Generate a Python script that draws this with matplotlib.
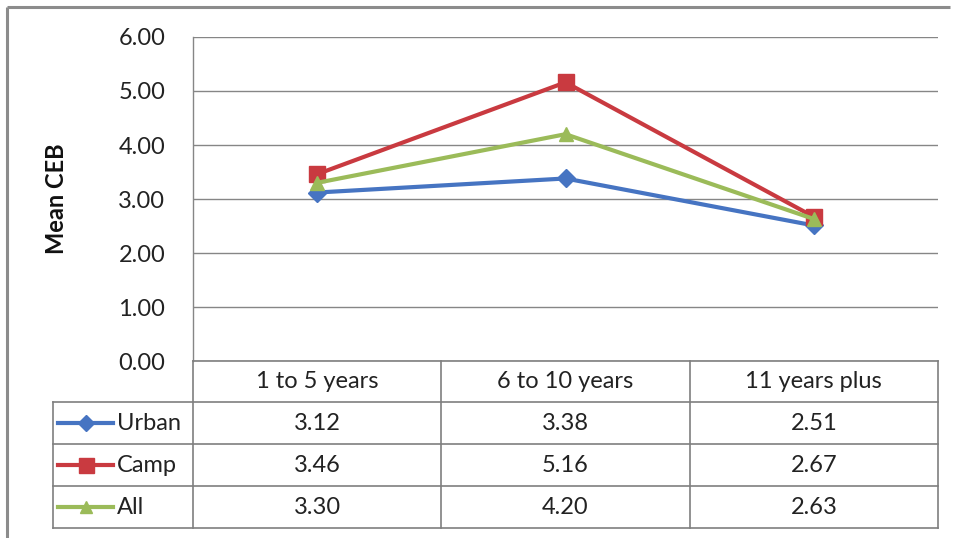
import matplotlib
matplotlib.use("Agg")
import matplotlib.pyplot as plt
from matplotlib.lines import Line2D

plt.rcParams['font.family'] = ['Lato', 'DejaVu Sans']

categories = ["1 to 5 years", "6 to 10 years", "11 years plus"]
series_names = ["Urban", "Camp", "All"]
urban = [3.12, 3.38, 2.51]
camp = [3.46, 5.16, 2.67]
all_values = [3.30, 4.20, 2.63]
y_ticks = [0, 1, 2, 3, 4, 5, 6]

series = [urban, camp, all_values]
colors = ["#4674C2", "#C93A40", "#9BBB59"]
markers = ["D", "s", "^"]
msizes = [9, 12, 10]

FS = 17
TXT = "#222222"
W, H = 955, 538
fig = plt.figure(figsize=(W / 100, H / 100), dpi=100)
fig.patch.set_facecolor("white")

def fig_rect(x0, y0, x1, y1):
    return [x0 / W, 1 - y1 / H, (x1 - x0) / W, (y1 - y0) / H]

# Chart outer frame (top and left edges)
frame = fig.add_axes([0, 0, 1, 1])
frame.set_xlim(0, W)
frame.set_ylim(H, 0)
frame.axis("off")
frame.plot([7, 950], [7, 7], color="#8C8C8C", lw=2.2, solid_capstyle="butt")
frame.plot([7, 7], [7, 538], color="#8C8C8C", lw=2.2, solid_capstyle="butt")

# Plot area
px0, px1, py0, py1 = 193, 938, 37, 361
ax = fig.add_axes(fig_rect(px0, py0, px1, py1))
ax.set_xlim(-0.5, len(categories) - 0.5)
ax.set_ylim(0, 6)
ax.set_yticks(y_ticks)
ax.set_yticklabels([f"{v:.2f}" for v in y_ticks], fontsize=FS, color=TXT)
ax.tick_params(axis="y", length=0, pad=20)
ax.set_xticks([])
for s in ["top", "right", "bottom"]:
    ax.spines[s].set_visible(False)
ax.spines["left"].set_color("#868686")
ax.spines["left"].set_linewidth(1.0)
ax.grid(axis="y", color="#868686", lw=1.0)
ax.set_axisbelow(True)
ax.set_ylabel("Mean CEB", fontsize=FS, fontweight="bold", color="#111111")
ax.yaxis.set_label_coords(-0.168, 0.5)

xs = list(range(len(categories)))
for vals, c, m, ms in zip(series, colors, markers, msizes):
    ax.plot(xs, vals, color=c, lw=3.0, marker=m, markersize=ms,
            markerfacecolor=c, markeredgecolor=c, clip_on=False, zorder=3)

# Data table below the plot area
tx0, ty0, ty1 = 53, 361, 528
tab = fig.add_axes(fig_rect(tx0, ty0, px1, ty1))
tab.set_xlim(tx0, px1)
tab.set_ylim(ty1, ty0)
tab.axis("off")
gc = "#7F7F7F"
col_w = (px1 - px0) / len(categories)
col_edges = [px0 + i * col_w for i in range(len(categories) + 1)]
row_edges = [361, 402, 444, 486, 528]

tab.plot([px0, px1], [row_edges[0], row_edges[0]], color=gc, lw=1.2, clip_on=False)
for y in row_edges[1:]:
    tab.plot([tx0, px1], [y, y], color=gc, lw=1.2, clip_on=False)
for x in col_edges:
    tab.plot([x, x], [row_edges[0], row_edges[-1]], color=gc, lw=1.2, clip_on=False)
tab.plot([tx0, tx0], [row_edges[1], row_edges[-1]], color=gc, lw=1.2, clip_on=False)

for i, cat in enumerate(categories):
    cx = (col_edges[i] + col_edges[i + 1]) / 2
    tab.text(cx, (row_edges[0] + row_edges[1]) / 2, cat, ha="center", va="center",
             fontsize=FS, color=TXT)

for r, (name, vals, c, m, ms) in enumerate(zip(series_names, series, colors, markers, msizes)):
    cy = (row_edges[r + 1] + row_edges[r + 2]) / 2
    tab.add_line(Line2D([58, 113], [cy, cy], color=c, lw=3.0))
    tab.add_line(Line2D([86], [cy], marker=m, markersize=ms * 0.9, color=c,
                        markerfacecolor=c, markeredgecolor=c))
    tab.text(117, cy, name, ha="left", va="center", fontsize=FS, color=TXT)
    for i, v in enumerate(vals):
        cx = (col_edges[i] + col_edges[i + 1]) / 2
        tab.text(cx, cy, f"{v:.2f}", ha="center", va="center", fontsize=FS, color=TXT)

fig.savefig("out.png", dpi=100, facecolor="white")
